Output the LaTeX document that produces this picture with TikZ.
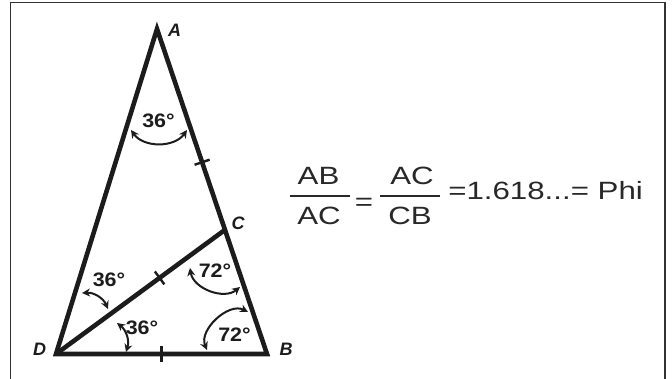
\documentclass[tikz,border=0pt]{standalone}
\usepackage{fontspec}
\setmainfont{Liberation Sans}
\usetikzlibrary{calc,arrows.meta}
\definecolor{inkgray}{RGB}{28,28,28}
\definecolor{textgray}{RGB}{40,40,40}
\tikzset{
  side/.style={line width=4.6pt, inkgray},
  tickmark/.style={line width=2.4pt, inkgray},
  angarc/.style={<->, >={Stealth[length=8pt,width=8pt]}, line width=2pt, inkgray},
  anglab/.style={font=\bfseries\fontsize{19.5}{19.5}\selectfont, inkgray, xscale=1.1, inner sep=0},
  vlab/.style={font=\bfseries\itshape\fontsize{18}{18}\selectfont, inkgray, inner sep=0},
  eqtext/.style={font=\fontsize{25}{25}\selectfont, textgray, xscale=1.25, inner sep=0, anchor=base},
}

\begin{document}
\begin{tikzpicture}[x=1pt,y=1pt]
    \useasboundingbox (0,0) rectangle (672,379);
    \draw[line width=1.3pt, black!80] (10.5,-5) -- (10.5,376.5) -- (665,376.5) -- (665,-5);
    \coordinate (A) at (157,350);
    \coordinate (B) at (267,25);
    \coordinate (D) at (56,25);
    \coordinate (C) at ($(A)!0.618!(B)$);
    \draw[side] (A) -- (B) -- (D) -- cycle;
    \draw[side] (D) -- (C);
    \foreach \p/\q/\f in {A/B/0.41, D/C/0.613, D/B/0.5} {
      \draw[tickmark] ($(\p)!\f!(\q)!8pt!90:(\q)$) -- ($(\p)!\f!(\q)!8pt!-90:(\q)$);
    }
    \node[vlab] (labA) at (174.5,348.5) {A};
    \node[vlab] (labC) at (238,156) {C};
    \node[vlab] (labD) at (39.5,29.5) {D};
    \node[vlab] (labB) at (286,29.5) {B};
    \draw[angarc] (131,249) to[bend right=55] (187,249);
    \draw[angarc] (82,86) to[bend left=35] (108,70);
    \draw[angarc] (117,56) to[bend left=35] (126,27);
    \draw[angarc] (190,111) to[bend right=60] (240,92);
    \draw[angarc] (207,29) to[bend left=70] (248,67);
    \node[anglab] (angA) at (158.5,258.5) {36°};
    \node[anglab] (angDup) at (109,99) {36°};
    \node[anglab] (angDlow) at (142,51) {36°};
    \node[anglab] (angC) at (215,108.5) {72°};
    \node[anglab] (angB) at (234.5,44) {72°};
    \node[eqtext] (numAB) at (318.5,194) {AB};
    \node[eqtext] (denAC) at (319,154) {AC};
    \node[eqtext] (numAC) at (412,194) {AC};
    \node[eqtext] (denCB) at (410,154) {CB};
    \node[eqtext] (eqA) at (364,168.5) {=};
    \node[eqtext, anchor=base west] (phi) at (448,179) {=1.618...= Phi};
    \draw[line width=1.8pt, textgray] (290,183) -- (350,183);
    \draw[line width=1.8pt, textgray] (380,183) -- (440,183);
\end{tikzpicture}
\end{document}
